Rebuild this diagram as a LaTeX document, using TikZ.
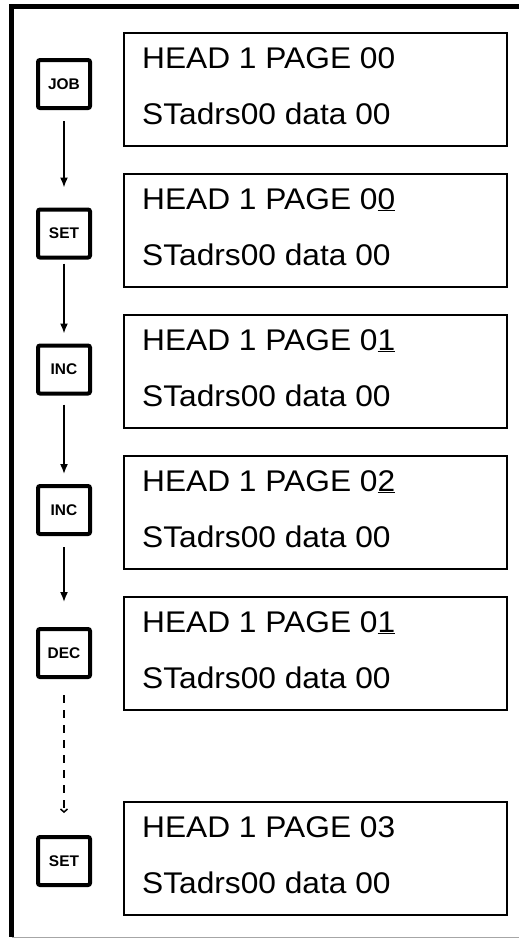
\documentclass[tikz,border=0pt]{standalone}
\usepackage{fontspec}
\setmainfont{Liberation Sans}
\newfontfamily\dispfont[FakeStretch=1.06]{Liberation Sans}
\usetikzlibrary{arrows.meta}
\begin{document}
\begin{tikzpicture}[x=1bp,y=-1bp,
  keybox/.style={draw,line width=4bp,rounded corners=2bp,minimum width=52bp,minimum height=48bp,inner sep=0pt,font=\fontsize{15.5}{17}\selectfont\bfseries},
  dispbox/.style={draw,line width=2bp,minimum width=383bp,minimum height=113bp,inner sep=0pt,anchor=north west},
  disptext/.style={anchor=base west,inner sep=0pt,font=\dispfont\fontsize{30}{36}\selectfont},
  arr/.style={line width=1.6bp,-{Latex[length=10bp,width=8bp]}},
  dasharr/.style={line width=2.2bp,dash pattern=on 8bp off 7bp,-{Straight Barb[length=3bp,width=7bp,line width=1.5bp]}}
]
\useasboundingbox (0,0) rectangle (519,939);
% outer frame
\coordinate (ftl) at (11.5,6.5);
\coordinate (ftr) at (519,6.5);
\coordinate (fbl) at (11.5,937);
\coordinate (fbr) at (519,937);
\draw[line width=4.5bp] (ftr) -- (ftl) -- (fbl);
\draw[line width=1bp,gray!70] (fbl) -- (fbr);

% key boxes
\node[keybox] (k1) at (64,84) {JOB};
\node[keybox] (k2) at (64,233.5) {SET};
\node[keybox] (k3) at (64,369.5) {INC};
\node[keybox] (k4) at (64,510) {INC};
\node[keybox] (k5) at (64,653) {DEC};
\node[keybox] (k6) at (64,861) {SET};

% connectors
\draw[arr,shorten <=11bp,shorten >=20bp] (k1) -- (k2);
\draw[arr,shorten <=4bp,shorten >=10bp] (k2) -- (k3);
\draw[arr,shorten <=9bp,shorten >=10bp] (k3) -- (k4);
\draw[arr,shorten <=11bp,shorten >=25bp] (k4) -- (k5);
\draw[dasharr,shorten <=16bp,shorten >=22bp] (k5) -- (k6);

% display boxes
\foreach \i/\t/\a/\b in {1/31/0/0,2/172/0/\underline{0},3/313/0/\underline{1},4/454/0/\underline{2},5/595/0/\underline{1},6/800/0/3}{
  \node[dispbox] (d\i) at (123,\t+1) {};
  \node[disptext] (h\i) at (142,\t+37) {HEAD 1 PAGE \a\b};
  \node[disptext] (s\i) at (142,\t+93) {STadrs00 data 00};
}
\end{tikzpicture}
\end{document}
